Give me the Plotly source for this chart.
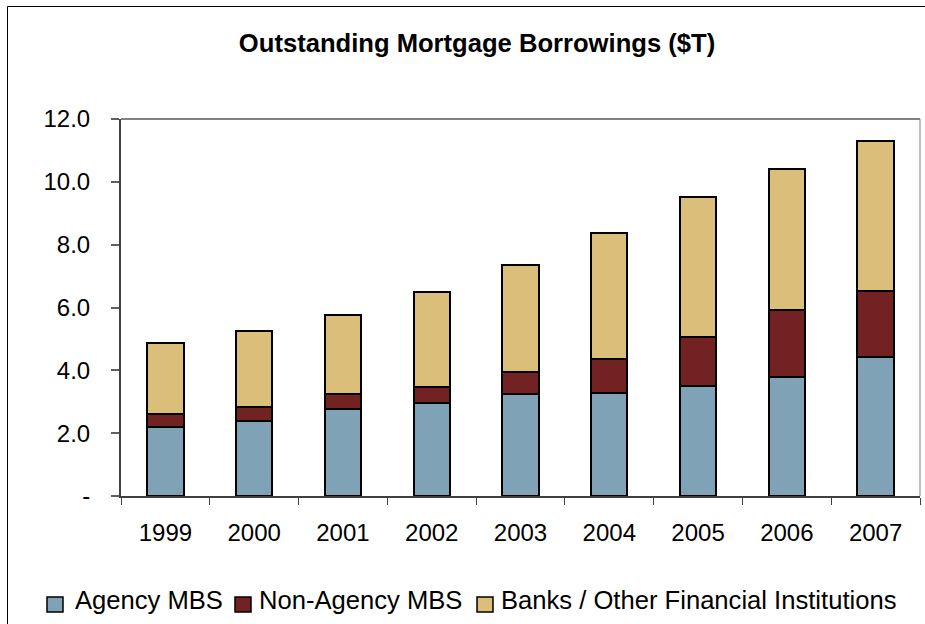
import plotly.graph_objects as go

# Outstanding mortgage borrowings by holder, trillions of dollars
years = ["1999", "2000", "2001", "2002", "2003", "2004", "2005", "2006", "2007"]
agency_mbs = [2.21, 2.40, 2.78, 2.97, 3.24, 3.29, 3.49, 3.80, 4.42]
non_agency_mbs = [0.40, 0.44, 0.46, 0.51, 0.70, 1.08, 1.58, 2.11, 2.11]
banks_other = [2.27, 2.42, 2.53, 3.01, 3.41, 4.00, 4.45, 4.49, 4.77]

y_tick_vals = [0, 2, 4, 6, 8, 10, 12]
y_tick_text = ["-", "2.0", "4.0", "6.0", "8.0", "10.0", "12.0"]

series_names = ["Agency MBS", "Non-Agency MBS", "Banks / Other Financial Institutions"]
series_colors = ["#80A2B6", "#732223", "#DBBE7A"]
series_values = [agency_mbs, non_agency_mbs, banks_other]

FONT = "Liberation Sans, Arial, sans-serif"

fig = go.Figure()
for name, vals, color in zip(series_names, series_values, series_colors):
    fig.add_trace(go.Bar(
        x=years, y=vals, name=name,
        marker=dict(color=color, line=dict(color="#000000", width=2)),
    ))

W, H = 925, 624
L, R, T, B = 121, 5, 119, 128
pw, ph = W - L - R, H - T - B


def px_x(px):
    return (px - L) / pw


def px_y(py):
    return ((H - B) - py) / ph


shapes = [
    # top and right edges of the plotting area
    dict(type="line", xref="paper", yref="paper", x0=0, x1=1, y0=1, y1=1,
         line=dict(color="#808080", width=2)),
    dict(type="line", xref="paper", yref="paper", x0=1, x1=1, y0=0, y1=1,
         line=dict(color="#808080", width=1)),
    # outer chart frame
    dict(type="rect", xref="paper", yref="paper",
         x0=px_x(7.5), x1=1.05, y0=-0.5, y1=px_y(6.5),
         line=dict(color="#000000", width=1), fillcolor="rgba(0,0,0,0)"),
]
annotations = []

# legend row beneath the chart: swatch then label for each series
swatch_left = [47, 235, 477]
label_left = [73, 257, 499]
for name, color, sx, lx in zip(series_names, series_colors, swatch_left, label_left):
    shapes.append(dict(
        type="rect", xref="paper", yref="paper",
        x0=px_x(sx), x1=px_x(sx + 16), y0=px_y(612), y1=px_y(597),
        line=dict(color="#000000", width=1.5), fillcolor=color,
    ))
    annotations.append(dict(
        text=name, xref="paper", yref="paper",
        x=px_x(lx), xanchor="left", y=px_y(600), yanchor="middle",
        showarrow=False, font=dict(family=FONT, size=25.6, color="#000000"),
    ))

fig.update_layout(
    width=W, height=H,
    barmode="stack", bargap=0.59,
    showlegend=False,
    paper_bgcolor="white", plot_bgcolor="white",
    margin=dict(l=L, r=R, t=T, b=B, pad=0),
    font=dict(family=FONT, color="#000000", size=24),
    title=dict(
        text="<b>Outstanding Mortgage Borrowings ($T)</b>",
        x=477 / W, xanchor="center", xref="container",
        y=1 - 43 / H, yanchor="middle", yref="container",
        font=dict(family=FONT, size=25.6, color="#000000"),
    ),
    xaxis=dict(
        type="category",
        showgrid=False, zeroline=False,
        showline=True, linecolor="#404040", linewidth=2,
        ticks="outside", tickson="boundaries", ticklen=7, tickwidth=1,
        tickcolor="#404040",
        tickfont=dict(family=FONT, size=24),
        ticklabelstandoff=14,
    ),
    yaxis=dict(
        range=[0, 12],
        tickvals=y_tick_vals, ticktext=y_tick_text,
        showgrid=False, zeroline=False,
        showline=True, linecolor="#404040", linewidth=2,
        ticks="outside", ticklen=8, tickwidth=2, tickcolor="#606060",
        tickfont=dict(family=FONT, size=24),
        ticklabelstandoff=16,
    ),
    shapes=shapes,
    annotations=annotations,
)

fig.write_html("out.html")
